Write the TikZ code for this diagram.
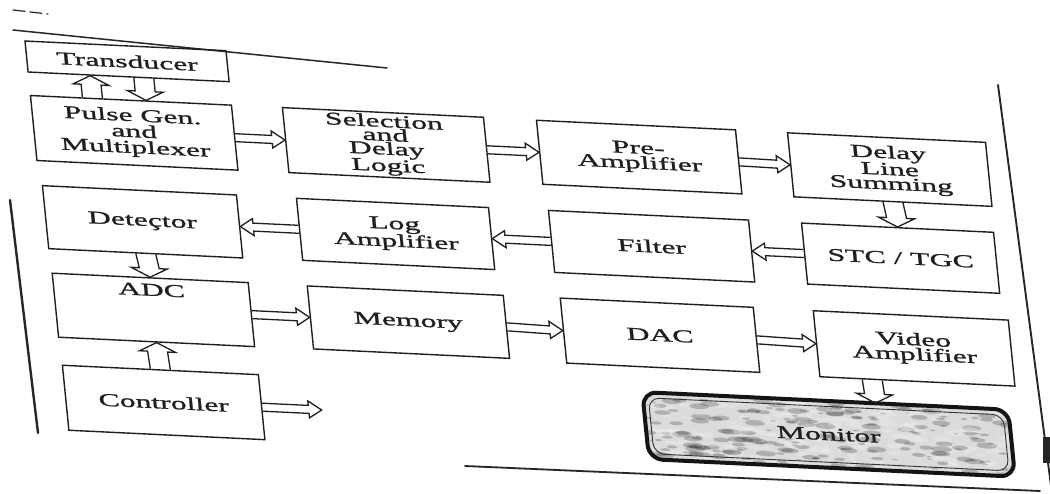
\documentclass[tikz,border=0pt]{standalone}
\usepackage{fontspec}
\setmainfont{Liberation Serif}[FakeStretch=1.76,FakeBold=1.3]
\usetikzlibrary{calc}
% hollow double-line block arrows (offsets in the picture's own, unsheared frame)
\newcommand\arR[2]{\draw[arr] ($(#1)+(0,-4)$) -- ($(#2)+(-13,-4)$) -- ($(#2)+(-13,-8.5)$) -- (#2) -- ($(#2)+(-13,8.5)$) -- ($(#2)+(-13,4)$) -- ($(#1)+(0,4)$);}
\newcommand\arL[2]{\draw[arr] ($(#1)+(0,-4)$) -- ($(#2)+(13,-4)$) -- ($(#2)+(13,-8.5)$) -- (#2) -- ($(#2)+(13,8.5)$) -- ($(#2)+(13,4)$) -- ($(#1)+(0,4)$);}
\newcommand\arD[2]{\draw[arr] ($(#1)+(-10,0)$) -- ($(#2)+(-10,-9)$) -- ($(#2)+(-18,-9)$) -- (#2) -- ($(#2)+(18,-9)$) -- ($(#2)+(10,-9)$) -- ($(#1)+(10,0)$);}
\newcommand\arU[2]{\draw[arr] ($(#1)+(-10,0)$) -- ($(#2)+(-10,9)$) -- ($(#2)+(-18,9)$) -- (#2) -- ($(#2)+(18,9)$) -- ($(#2)+(10,9)$) -- ($(#1)+(10,0)$);}
\begin{document}
\begin{tikzpicture}[x=1pt,y=-1pt,
  box/.style={draw=black!88, line width=1.4pt, inner sep=0pt, align=center, text=black!88,
    font=\fontsize{18pt}{15pt}\selectfont},
  lbl/.style={inner sep=0pt, align=center, text=black!88, font=\fontsize{18pt}{15pt}\selectfont},
  arr/.style={draw=black!88, line width=1.3pt, line join=miter},
  frameline/.style={draw=black!85, line cap=round}]
\fill[white] (0,0) rectangle (1050,493);
\useasboundingbox (0,0) rectangle (1050,493);

% page frame (as scanned)
\draw[frameline, line width=1.5pt] (13,30) -- (387,68);
\draw[frameline, line width=2.4pt] (10,200) -- (38,433);
\draw[frameline, line width=1.9pt] (998,85) -- (1052,493);
\draw[frameline, line width=1.8pt] (465,466) -- (1040,491);
\draw[frameline, line width=1.2pt, dash pattern=on 12pt off 5pt] (13,10) -- (48,14);
\fill[black!85] (1043,437) rectangle (1050,463);

\begin{scope}[cm={1,-0.048,-0.1,1,(0,0)}, transform shape]
  % row 0 / 1
  \node[box, minimum width=201pt, minimum height=31pt] (trans) at (121.5,55.5) {Transducer};
  \node[box, minimum width=201pt, minimum height=65pt, font=\fontsize{18pt}{16pt}\selectfont] (pulse) at (121.5,127) {Pulse Gen.\\and\\Multiplexer};
  \node[box, minimum width=201pt, minimum height=65pt, font=\fontsize{18pt}{13.8pt}\selectfont] (sel) at (373.5,127) {Selection\\and\\Delay\\Logic};
  \node[box, minimum width=199pt, minimum height=64pt] (pre) at (626.5,127) {Pre-\\Amplifier};
  \node[box, minimum width=198pt, minimum height=64pt, font=\fontsize{18pt}{14.5pt}\selectfont] (delay) at (877,127.5) {Delay\\Line\\Summing};
  % row 2
  \node[box, minimum width=192pt, minimum height=61pt] (stc) at (879,216) {STC / TGC};
  \node[box, minimum width=200pt, minimum height=62pt] (filter) at (630,216) {Filter};
  \node[box, minimum width=192pt, minimum height=62pt] (log) at (374,216) {Log\\Amplifier};
  \node[box, minimum width=194pt, minimum height=63pt] (det) at (121,216) {Deteçtor};
  % row 3
  \node[box, minimum width=196pt, minimum height=64pt] (adc) at (123,304) {};
  \node[lbl] (adclbl) at (123,284) {ADC};
  \node[box, minimum width=196pt, minimum height=63pt] (mem) at (378,304) {Memory};
  \node[box, minimum width=193pt, minimum height=65pt] (dac) at (629.5,305) {DAC};
  \node[box, minimum width=195pt, minimum height=66pt] (video) at (883.5,306) {Video\\Amplifier};
  % row 4
  \node[box, minimum width=196pt, minimum height=65pt] (ctrl) at (124,396.5) {Controller};

  % monitor
  \begin{scope}
    \clip[rounded corners=14pt] (606,363) -- (972,363) -- (972,430) -- (606,430) -- cycle;
    \fill[gray!28] (600,355) -- (980,355) -- (980,440) -- (600,440) -- cycle;
    \pgfmathsetseed{7}
    \foreach \i in {1,...,420}{
      \pgfmathsetmacro\px{606+366*rnd}
      \pgfmathsetmacro\py{363+67*rnd}
      \pgfmathsetmacro\pr{0.6+2.4*rnd}
      \pgfmathsetmacro\pc{rnd>0.5 ? 100 : 0}
      \fill[black!\pc, opacity=0.2] (\px,\py) ellipse [x radius=3.5*\pr, y radius=\pr];
    }
  \end{scope}
  \draw[black!92, line width=4pt, rounded corners=14pt] (606,363) -- (972,363) -- (972,430) -- (606,430) -- cycle;
  \draw[black!80, line width=0.9pt, rounded corners=11pt] (611.5,368.5) -- (966.5,368.5) -- (966.5,424.5) -- (611.5,424.5) -- cycle;
  \node[lbl, minimum width=366pt, minimum height=67pt] (mon) at (789,396.5) {Monitor};

  % anchor points for the off-centre connectors
  \coordinate (tuA) at ($(pulse.north west)!0.31!(pulse.north east)$);
  \coordinate (tuB) at ($(trans.south west)!0.31!(trans.south east)$);
  \coordinate (tdA) at ($(trans.south west)!0.575!(trans.south east)$);
  \coordinate (tdB) at ($(pulse.north west)!0.575!(pulse.north east)$);
  \coordinate (vmA) at ($(video.south west)!0.27!(video.south east)$);
  \coordinate (vmB) at ($(mon.north west)!0.637!(mon.north east)$);
  \coordinate (ctrlout) at (282,396.5);

  % connectors
  \arU{tuA}{tuB}
  \arD{tdA}{tdB}
  \arR{pulse.east}{sel.west}
  \arR{sel.east}{pre.west}
  \arR{pre.east}{delay.west}
  \arD{delay.south}{stc.north}
  \arL{stc.west}{filter.east}
  \arL{filter.west}{log.east}
  \arL{log.west}{det.east}
  \arD{det.south}{adc.north}
  \arR{adc.east}{mem.west}
  \arR{mem.east}{dac.west}
  \arR{dac.east}{video.west}
  \arD{vmA}{vmB}
  \arU{ctrl.north}{adc.south}
  \arR{ctrl.east}{ctrlout}
\end{scope}
\end{tikzpicture}
\end{document}
